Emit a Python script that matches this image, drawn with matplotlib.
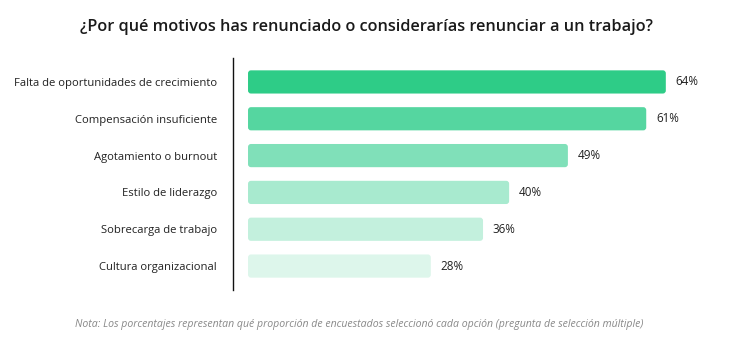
import matplotlib
matplotlib.use("Agg")
import matplotlib.pyplot as plt
from matplotlib.patches import FancyBboxPatch

categorias = [
    "Falta de oportunidades de crecimiento",
    "Compensación insuficiente",
    "Agotamiento o burnout",
    "Estilo de liderazgo",
    "Sobrecarga de trabajo",
    "Cultura organizacional",
]
porcentajes = [64, 61, 49, 40, 36, 28]
colores = ["#2ecc87", "#55d6a0", "#80e0b9", "#a8eacf", "#c3f0dd", "#ddf6eb"]

titulo = "¿Por qué motivos has renunciado o considerarías renunciar a un trabajo?"
nota = ("Nota: Los porcentajes representan qué proporción de encuestados "
        "seleccionó cada opción (pregunta de selección múltiple)")

plt.rcParams["font.family"] = ["Open Sans", "DejaVu Sans"]

fig = plt.figure(figsize=(7.47, 3.59), dpi=100)
ax = fig.add_axes([233 / 747, 1 - 290 / 359, (720 - 233) / 747, 232 / 359])

y = list(range(len(categorias)))
barras = ax.barh(y, porcentajes, height=0.63, color=colores)

# esquinas redondeadas
for b, c in zip(barras, colores):
    b.set_visible(False)
    p = FancyBboxPatch((b.get_x(), b.get_y()), b.get_width(), b.get_height(),
                       boxstyle="round,pad=0,rounding_size=0.45",
                       mutation_aspect=0.18, facecolor=c, edgecolor="none")
    ax.add_patch(p)

for yi, v in zip(y, porcentajes):
    ax.text(v + 1.5, yi, f"{v}%", va="center", ha="left", fontsize=8.4, color="#222222")

ax.set_xlim(-2.3, 72.3)
ax.set_ylim(5.65, -0.65)
ax.set_yticks(y)
ax.set_yticklabels(categorias, fontsize=8.1, color="#222222")
ax.tick_params(axis="y", length=0, pad=11.5)
ax.set_xticks([])
for s in ["top", "right", "bottom"]:
    ax.spines[s].set_visible(False)
ax.spines["left"].set_color("#111111")
ax.spines["left"].set_linewidth(1)

fig.text(366 / 747, 1 - 27 / 359, titulo, ha="center", va="center",
         fontsize=11.7, fontweight="semibold", color="#1a1a1a")
fig.text(359 / 747, 1 - 325 / 359, nota, ha="center", va="center",
         fontsize=7.6, style="italic", color="#888888")

fig.savefig("out.png", dpi=100)
